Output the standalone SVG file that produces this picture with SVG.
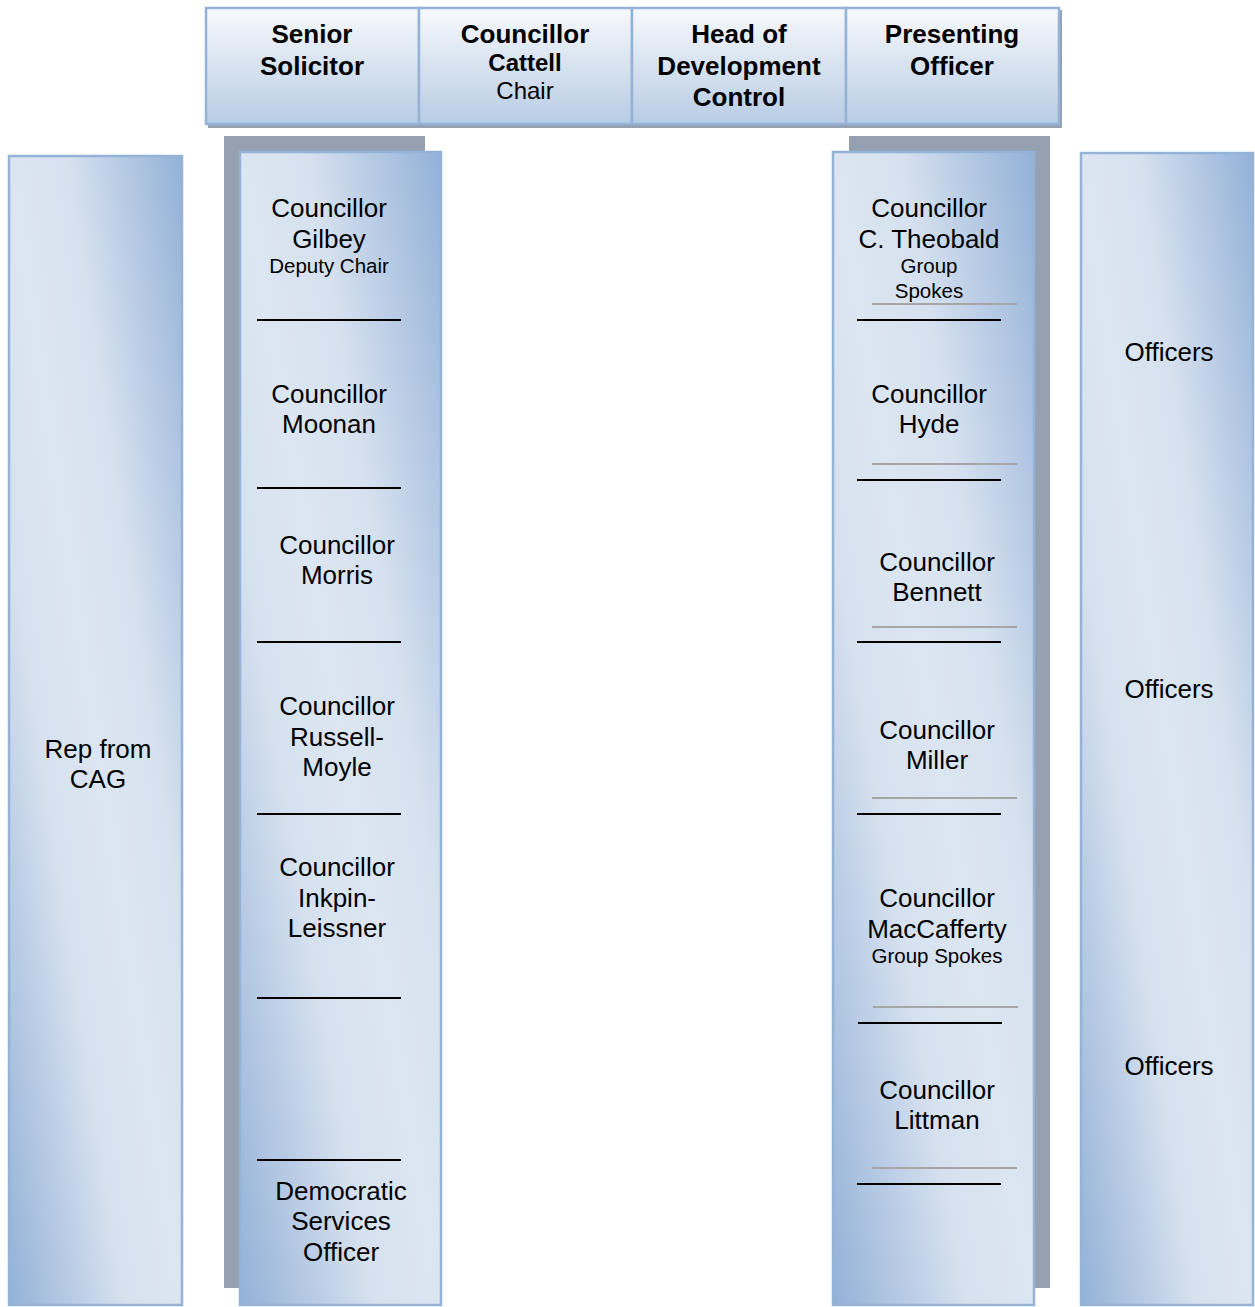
<svg xmlns="http://www.w3.org/2000/svg" width="1255" height="1307" viewBox="0 0 1255 1307">
<defs>
<linearGradient id="col" x1="1" y1="0" x2="0" y2="1">
<stop offset="0" stop-color="#93b1d8"/>
<stop offset="0.33" stop-color="#d6e1ef"/>
<stop offset="0.5" stop-color="#dce6f2"/>
<stop offset="0.67" stop-color="#d6e1ef"/>
<stop offset="1" stop-color="#93b1d8"/>
</linearGradient>
<linearGradient id="hdr" x1="0" y1="0" x2="0" y2="1">
<stop offset="0" stop-color="#f7f9fc"/>
<stop offset="1" stop-color="#b8cce4"/>
</linearGradient>
</defs>
<style>
text{font-family:"Liberation Sans",Arial,sans-serif;fill:#000;text-anchor:middle}
.b{font-weight:bold;font-size:26px}
.n{font-size:26px}
.s{font-size:20.5px}
.hb{fill:url(#hdr);stroke:#95b3d7;stroke-width:2.5}
.col{fill:url(#col);stroke:#95b3d7;stroke-width:2.5}
.sh{fill:#95a1b1}
.blk{stroke:#000;stroke-width:2}
.gry{stroke:#a6a6a6;stroke-width:2}
</style>
<rect x="0" y="0" width="1255" height="1307" fill="#fff"/>
<g id="header">
<rect class="sh" x="208" y="10" width="854" height="118"/>
<g id="senior-solicitor">
<rect class="hb" x="206" y="8" width="213" height="116"/>
<text class="b" x="312" y="43">Senior</text>
<text class="b" x="312" y="75">Solicitor</text>
</g>
<g id="councillor-cattell">
<rect class="hb" x="419" y="8" width="213" height="116"/>
<text class="b" x="525" y="43">Councillor</text>
<text class="b" x="525" y="71" style="font-size:24px">Cattell</text>
<text class="n" x="525" y="99" style="font-size:24px">Chair</text>
</g>
<g id="head-of-development-control">
<rect class="hb" x="632" y="8" width="214" height="116"/>
<text class="b" x="739" y="43">Head of</text>
<text class="b" x="739" y="75">Development</text>
<text class="b" x="739" y="106">Control</text>
</g>
<g id="presenting-officer">
<rect class="hb" x="846" y="8" width="213" height="116"/>
<text class="b" x="952" y="43">Presenting</text>
<text class="b" x="952" y="75">Officer</text>
</g>
</g>
<g id="rep-from-cag">
<rect class="col" x="9" y="156" width="173" height="1149"/>
<text class="n" x="98" y="758">Rep from</text>
<text class="n" x="98" y="788">CAG</text>
</g>
<g id="left-members">
<rect class="sh" x="224" y="136" width="201" height="1152"/>
<rect class="col" x="240" y="152" width="201" height="1153"/>
<line class="blk" x1="257" y1="320" x2="401" y2="320"/>
<line class="blk" x1="257" y1="488" x2="401" y2="488"/>
<line class="blk" x1="257" y1="642" x2="401" y2="642"/>
<line class="blk" x1="257" y1="814" x2="401" y2="814"/>
<line class="blk" x1="257" y1="998" x2="401" y2="998"/>
<line class="blk" x1="257" y1="1160" x2="401" y2="1160"/>
<g id="cllr-gilbey">
<text class="n" x="329" y="217">Councillor</text>
<text class="n" x="329" y="248">Gilbey</text>
<text class="s" x="329" y="273">Deputy Chair</text>
</g>
<g id="cllr-moonan">
<text class="n" x="329" y="403">Councillor</text>
<text class="n" x="329" y="433">Moonan</text>
</g>
<g id="cllr-morris">
<text class="n" x="337" y="554">Councillor</text>
<text class="n" x="337" y="584">Morris</text>
</g>
<g id="cllr-russell-moyle">
<text class="n" x="337" y="715">Councillor</text>
<text class="n" x="337" y="746">Russell-</text>
<text class="n" x="337" y="776">Moyle</text>
</g>
<g id="cllr-inkpin-leissner">
<text class="n" x="337" y="876">Councillor</text>
<text class="n" x="337" y="907">Inkpin-</text>
<text class="n" x="337" y="937">Leissner</text>
</g>
<g id="democratic-services-officer">
<text class="n" x="341" y="1200">Democratic</text>
<text class="n" x="341" y="1230">Services</text>
<text class="n" x="341" y="1261">Officer</text>
</g>
</g>
<g id="right-members">
<rect class="sh" x="849" y="136" width="201" height="1152"/>
<rect class="col" x="833" y="152" width="201" height="1153"/>
<line class="gry" x1="872" y1="304" x2="1017" y2="304"/>
<line class="gry" x1="872" y1="464" x2="1017" y2="464"/>
<line class="gry" x1="872" y1="627" x2="1017" y2="627"/>
<line class="gry" x1="872" y1="798" x2="1017" y2="798"/>
<line class="gry" x1="873" y1="1007" x2="1018" y2="1007"/>
<line class="gry" x1="872" y1="1168" x2="1017" y2="1168"/>
<line class="blk" x1="857" y1="320" x2="1001" y2="320"/>
<line class="blk" x1="857" y1="480" x2="1001" y2="480"/>
<line class="blk" x1="857" y1="642" x2="1001" y2="642"/>
<line class="blk" x1="857" y1="814" x2="1001" y2="814"/>
<line class="blk" x1="858" y1="1023" x2="1002" y2="1023"/>
<line class="blk" x1="857" y1="1184" x2="1001" y2="1184"/>
<g id="cllr-theobald">
<text class="n" x="929" y="217">Councillor</text>
<text class="n" x="929" y="248">C. Theobald</text>
<text class="s" x="929" y="273">Group</text>
<text class="s" x="929" y="298">Spokes</text>
</g>
<g id="cllr-hyde">
<text class="n" x="929" y="403">Councillor</text>
<text class="n" x="929" y="433">Hyde</text>
</g>
<g id="cllr-bennett">
<text class="n" x="937" y="571">Councillor</text>
<text class="n" x="937" y="601">Bennett</text>
</g>
<g id="cllr-miller">
<text class="n" x="937" y="739">Councillor</text>
<text class="n" x="937" y="769">Miller</text>
</g>
<g id="cllr-maccafferty">
<text class="n" x="937" y="907">Councillor</text>
<text class="n" x="937" y="938">MacCafferty</text>
<text class="s" x="937" y="963">Group Spokes</text>
</g>
<g id="cllr-littman">
<text class="n" x="937" y="1099">Councillor</text>
<text class="n" x="937" y="1129">Littman</text>
</g>
</g>
<g id="officers">
<rect class="col" x="1081" y="153" width="172" height="1152"/>
<text class="n" x="1169" y="361">Officers</text>
<text class="n" x="1169" y="698">Officers</text>
<text class="n" x="1169" y="1075">Officers</text>
</g>
<g id="connectors"/>
</svg>
